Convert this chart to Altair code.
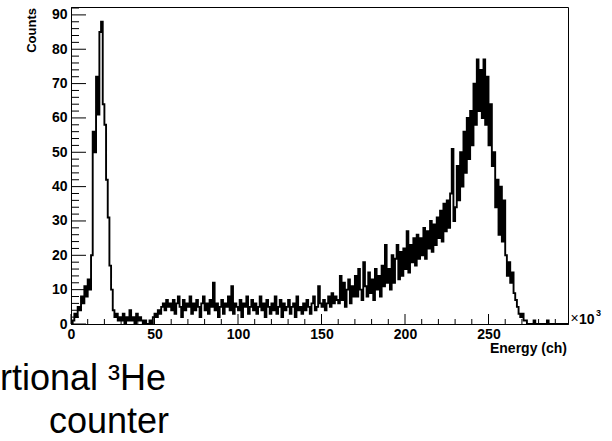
import altair as alt
import pandas as pd

# ---- data: counts per 1k-channel bin ----
peak_low = [0, 1, 3, 2, 5, 4, 8, 6, 11, 8,
            13, 10, 20, 56, 50, 72, 61, 85, 88, 64,
            58, 42, 31, 17, 10, 4, 2, 3, 1, 2]
valley = [1, 3, 0, 2, 1, 4, 1, 2, 0, 3,
          1, 2, 1, 0, 1, 0, 0, 1, 0, 2,
          3, 2, 4, 3, 5, 6, 4, 7, 5, 6]
plateau = [4, 7, 3, 6, 8, 5, 2, 7, 4, 6,
           5, 8, 3, 6, 4, 7, 5, 2, 6, 8,
           4, 6, 3, 7, 5, 12, 4, 6, 2, 5,
           7, 3, 6, 5, 8, 4, 11, 3, 6, 5,
           4, 7, 2, 6, 5, 8, 3, 5, 7, 4,
           6, 3, 5, 8, 4, 6, 2, 7, 5, 3,
           6, 4, 8, 3, 5, 7, 2, 6, 4, 5,
           7, 3, 5, 6, 2, 8, 4, 5, 3, 6,
           4, 7, 5, 3, 6, 8, 4, 5, 11, 6,
           5, 7, 4, 6, 8, 5, 9, 6, 8, 7]
rise = [6, 14, 7, 12, 5, 10, 13, 6, 11, 8,
        14, 8, 16, 10, 7, 18, 11, 8, 15, 9,
        13, 7, 16, 10, 14, 8, 17, 11, 23, 12,
        16, 10, 20, 12, 19, 23, 13, 21, 14, 22,
        16, 27, 15, 23, 18, 25, 17, 26, 19, 25,
        20, 28, 19, 27, 22, 30, 21, 29, 23, 31,
        25, 33, 24, 35, 27, 36, 28, 38, 51, 30]
peak_high = [34, 46, 36, 50, 40, 56, 44, 60, 48, 62,
             52, 70, 58, 77, 62, 74, 60, 77, 58, 72,
             52, 64, 46, 50, 34, 42, 26, 40, 24, 36,
             20, 14, 18, 12, 15, 9, 7, 5, 3, 2,
             3, 1, 1]
tail = [0, 0, 0, 0, 1, 0, 0, 0, 0, 0,
        0, 0, 1, 0, 0, 0, 0, 0, 0, 0,
        0, 0, 0, 0, 0]

counts = peak_low + valley + plateau + rise + peak_high + tail
energy = list(range(len(counts)))
# closing edge of the last bin for the step outline
hist_df = pd.DataFrame({"energy": energy + [len(counts)],
                        "counts": counts + [counts[-1]]})

x_major = [0, 50, 100, 150, 200, 250]
x_minor = [v for v in range(0, 300, 10) if v % 50 != 0]
y_major = [0, 10, 20, 30, 40, 50, 60, 70, 80, 90]
y_minor = [v for v in range(0, 93, 2) if v % 10 != 0]

W, H = 497, 317
XMAX, YMAX = 297.6, 92.3
LBL = "Liberation Sans"

xs = alt.Scale(domain=[0, XMAX], nice=False, zero=False)
ys = alt.Scale(domain=[0, YMAX], nice=False, zero=False)
x_axis = alt.Axis(values=x_major, format="d", ticks=False, grid=False, title=None,
                  labelFont=LBL, labelFontWeight="bold", labelFontSize=14,
                  labelColor="black", labelPadding=3, labelFlush=False,
                  labelOverlap=False, domainColor="black", domainWidth=1)
y_axis = alt.Axis(values=y_major, format="d", ticks=False, grid=False, title=None,
                  labelFont=LBL, labelFontWeight="bold", labelFontSize=14,
                  labelColor="black", labelPadding=4, labelFlush=False,
                  labelOverlap=False, domainColor="black", domainWidth=1)

hist = alt.Chart(hist_df).mark_line(
    interpolate="step-after", color="black", strokeWidth=1.9, clip=True
).encode(
    x=alt.X("energy:Q", scale=xs, axis=x_axis),
    y=alt.Y("counts:Q", scale=ys, axis=y_axis),
)

def xticks(vals, length):
    return alt.Chart(pd.DataFrame({"energy": vals})).mark_rule(
        color="black", strokeWidth=1
    ).encode(
        x=alt.X("energy:Q", scale=xs, axis=x_axis),
        y=alt.value(H), y2=alt.value(H - length),
    )

def yticks(vals, length):
    return alt.Chart(pd.DataFrame({"counts": vals})).mark_rule(
        color="black", strokeWidth=1
    ).encode(
        y=alt.Y("counts:Q", scale=ys, axis=y_axis),
        x=alt.value(0), x2=alt.value(length),
    )

one = pd.DataFrame({"a": [0]})

def label(txt, x, y, size, weight="normal", align="left", baseline="alphabetic",
          angle=0, font=LBL):
    return alt.Chart(one).mark_text(
        text=txt, font=font, fontSize=size, fontWeight=weight, align=align,
        baseline=baseline, angle=angle, color="black"
    ).encode(x=alt.value(x), y=alt.value(y))

texts = [
    label("Counts", -39, 1, 13, "bold", align="right", baseline="middle", angle=270),
    label("Energy (ch)", 496, 342, 14, "bold", align="right", baseline="middle"),
    label("×", 499.5, 316, 14),
    label("10", 508, 317, 14, "bold"),
    label("3", 525, 309, 9, "bold"),
    label("rtional ³He", -71, 383, 36),
    label("counter", 38, 426, 36, align="center"),
]

chart = alt.layer(
    hist,
    xticks(x_major, 10), xticks(x_minor, 5),
    yticks(y_major, 15), yticks(y_minor, 8),
    *texts,
).properties(
    width=W, height=H,
    autosize=alt.AutoSizeParams(type="none"),
    padding={"left": 71, "top": 7, "right": 44, "bottom": 117},
    background="white",
).configure_view(stroke="black", strokeWidth=1)

chart.save("out.html", embed_options={"renderer": "svg", "actions": False})
